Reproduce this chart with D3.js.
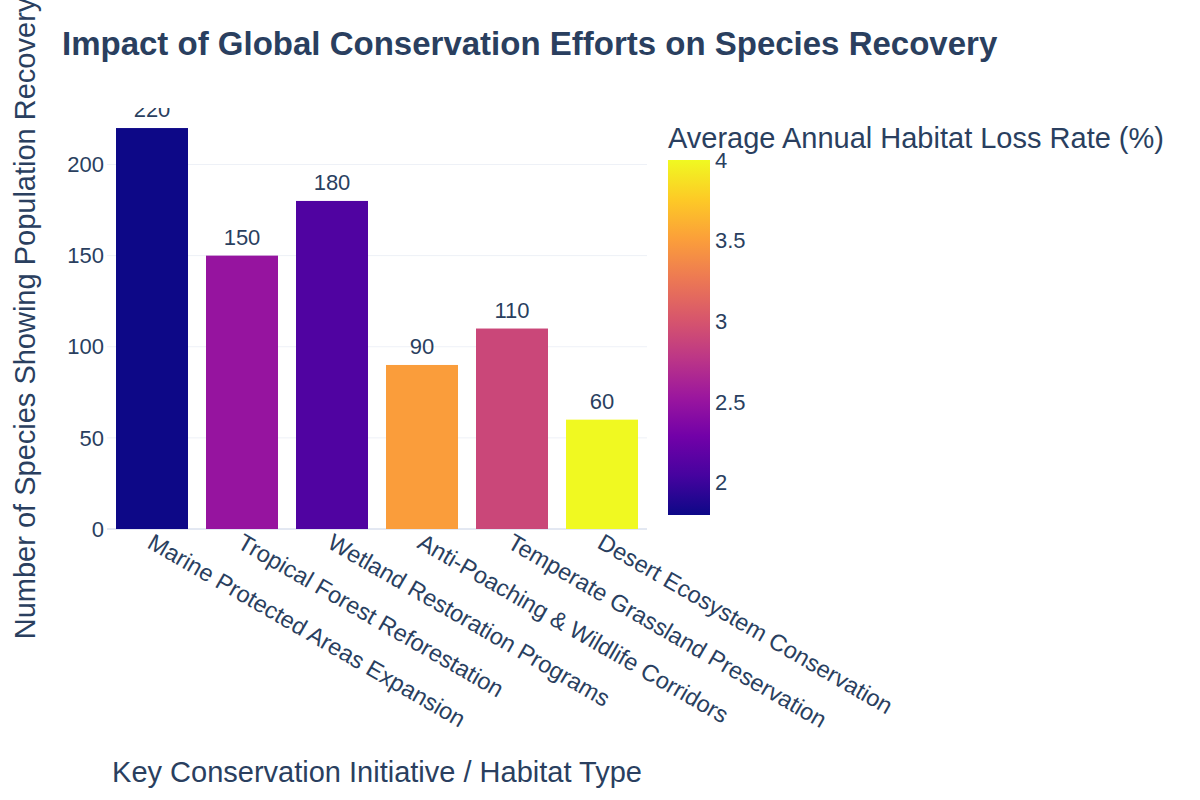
<!DOCTYPE html>
<html>
<head>
<meta charset="utf-8">
<script src="https://cdn.jsdelivr.net/npm/d3@7"></script>
<style>
  body { margin: 0; background: #fff; }
  text { font-family: "Liberation Sans", Arial, sans-serif; fill: #2a3f5f; }
</style>
</head>
<body>
<div id="chart"></div>
<script>
const initiatives = [
  "Marine Protected Areas Expansion",
  "Tropical Forest Reforestation",
  "Wetland Restoration Programs",
  "Anti-Poaching & Wildlife Corridors",
  "Temperate Grassland Preservation",
  "Desert Ecosystem Conservation"
];
const speciesRecovered = [220, 150, 180, 90, 110, 60];
const habitatLoss = [1.8, 2.5, 2.1, 3.5, 2.9, 4.0];
const yTicks = [0, 50, 100, 150, 200];
const colorTicks = [2, 2.5, 3, 3.5, 4];
// plasma colour stops as used by the original chart
const plasmaStops = ["#0d0887", "#46039f", "#7201a8", "#9c179e", "#bd3786",
  "#d8576b", "#ed7953", "#fb9f3a", "#fdca26", "#f0f921"];

const width = 1200, height = 800;
const plot = { left: 107, right: 647, top: 108, bottom: 529 };

const svg = d3.select("#chart").append("svg")
  .attr("width", width)
  .attr("height", height);

const x = d3.scaleBand()
  .domain(initiatives)
  .range([plot.left, plot.right])
  .paddingInner(0.2)
  .paddingOuter(0.1);

const y = d3.scaleLinear()
  .domain([0, 231])
  .range([plot.bottom, plot.top]);

const cmin = d3.min(habitatLoss), cmax = d3.max(habitatLoss);
const plasma = d3.scaleLinear()
  .domain(plasmaStops.map((d, i) => i / (plasmaStops.length - 1)))
  .range(plasmaStops)
  .interpolate(d3.interpolateRgb);
const color = v => plasma((v - cmin) / (cmax - cmin));

// gridlines
svg.append("g")
  .selectAll("line")
  .data(yTicks)
  .join("line")
  .attr("x1", plot.left)
  .attr("x2", plot.right)
  .attr("y1", d => y(d))
  .attr("y2", d => y(d))
  .attr("stroke", d => d === 0 ? "#e3e8f2" : "#eef1f7")
  .attr("stroke-width", d => d === 0 ? 2 : 1);

// y tick labels
svg.append("g")
  .selectAll("text")
  .data(yTicks)
  .join("text")
  .attr("x", plot.left - 3)
  .attr("y", d => y(d))
  .attr("dy", "0.35em")
  .attr("text-anchor", "end")
  .attr("font-size", 22)
  .text(d => d);

// clip for the plot area (bar labels get cut off at the top)
svg.append("clipPath")
  .attr("id", "plotclip")
  .append("rect")
  .attr("x", plot.left)
  .attr("y", plot.top)
  .attr("width", plot.right - plot.left)
  .attr("height", plot.bottom - plot.top);

const data = initiatives.map((d, i) => ({
  name: d, value: speciesRecovered[i], loss: habitatLoss[i]
}));

const barG = svg.append("g").attr("clip-path", "url(#plotclip)");

barG.selectAll("rect")
  .data(data)
  .join("rect")
  .attr("x", d => x(d.name))
  .attr("width", x.bandwidth())
  .attr("y", d => y(d.value))
  .attr("height", d => y(0) - y(d.value))
  .attr("fill", d => color(d.loss));

barG.selectAll("text")
  .data(data)
  .join("text")
  .attr("x", d => x(d.name) + x.bandwidth() / 2)
  .attr("y", d => y(d.value) - 11)
  .attr("text-anchor", "middle")
  .attr("font-size", 22)
  .text(d => d.value);

// x tick labels, rotated
svg.append("g")
  .selectAll("text")
  .data(initiatives)
  .join("text")
  .attr("transform", d => `translate(${x(d) + x.bandwidth() / 2 - 6},${plot.bottom + 18}) rotate(30)`)
  .attr("text-anchor", "start")
  .attr("font-size", 23.5)
  .text(d => d);

// axis titles
svg.append("text")
  .attr("transform", `translate(35,${(plot.top + plot.bottom) / 2}) rotate(-90)`)
  .attr("text-anchor", "middle")
  .attr("font-size", 29)
  .text("Number of Species Showing Population Recovery");

svg.append("text")
  .attr("x", (plot.left + plot.right) / 2)
  .attr("y", 782)
  .attr("text-anchor", "middle")
  .attr("font-size", 29)
  .text("Key Conservation Initiative / Habitat Type");

// title
svg.append("text")
  .attr("x", 62)
  .attr("y", 55)
  .attr("font-size", 33)
  .attr("font-weight", "bold")
  .text("Impact of Global Conservation Efforts on Species Recovery");

// colorbar
const cb = { x: 668, w: 42, top: 160, bottom: 515 };
const cy = d3.scaleLinear().domain([cmin, cmax]).range([cb.bottom, cb.top]);

const grad = svg.append("defs").append("linearGradient")
  .attr("id", "cbgrad")
  .attr("x1", 0).attr("y1", 1).attr("x2", 0).attr("y2", 0);
grad.selectAll("stop")
  .data(plasmaStops)
  .join("stop")
  .attr("offset", (d, i) => i / (plasmaStops.length - 1))
  .attr("stop-color", d => d);

svg.append("rect")
  .attr("x", cb.x)
  .attr("y", cb.top)
  .attr("width", cb.w)
  .attr("height", cb.bottom - cb.top)
  .attr("fill", "url(#cbgrad)");

svg.append("g")
  .selectAll("text")
  .data(colorTicks)
  .join("text")
  .attr("x", cb.x + cb.w + 5)
  .attr("y", d => cy(d))
  .attr("dy", "0.35em")
  .attr("font-size", 22)
  .text(d => d);

svg.append("text")
  .attr("x", cb.x)
  .attr("y", 148)
  .attr("font-size", 29)
  .text("Average Annual Habitat Loss Rate (%)");
</script>
</body>
</html>
